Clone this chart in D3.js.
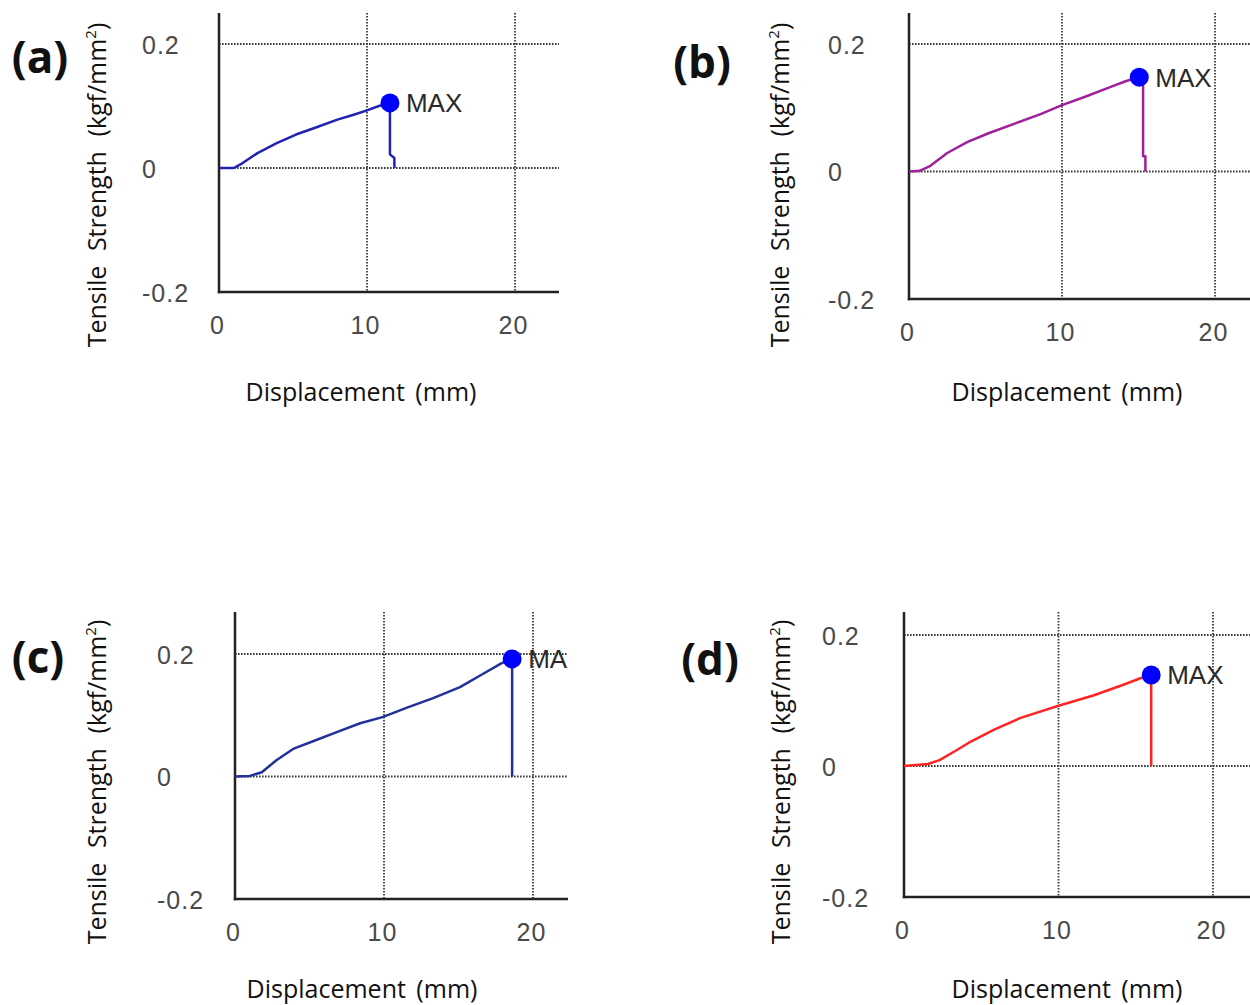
<html>
<head>
<script src="https://d3js.org/d3.v7.min.js"></script>
<style>
  body { margin: 0; background: #fff; }
  .tick text { font-family: "Liberation Sans", Arial, sans-serif; font-size: 25px; fill: #4a4a4a; letter-spacing: 1px; }
  .title { font-family: "Open Sans", "Noto Sans", sans-serif; font-size: 25px; fill: #111; }
  .plabel { font-family: "Open Sans", "Noto Sans", sans-serif; font-size: 44px; font-weight: bold; fill: #111; }
  .maxlabel { font-family: "Liberation Sans", Arial, sans-serif; font-size: 26px; fill: #2a2a2a; }
  .grid { stroke: #3a3a3a; stroke-width: 1.8; stroke-dasharray: 1.6,1.4; }
  .axisline { stroke: #222; stroke-width: 2.5; }
</style>
</head>
<body>
<div id="chart"></div>
<script>
// tick values shared by all four panels
const xTicks = [0, 10, 20];
const yTicks = [-0.2, 0, 0.2];
const yTickLabels = ['-0.2', '0', '0.2'];
const panelLabels = ['(a)', '(b)', '(c)', '(d)'];

// displacement (mm) / tensile strength (kgf/mm2)
const dispA = [0, 1.0, 1.6, 2.6, 3.9, 5.2, 6.5, 8.0, 9.1, 10.0, 10.8, 11.55, 11.55, 11.85, 11.85];
const tensA = [0, 0.0, 0.008, 0.024, 0.040, 0.054, 0.065, 0.078, 0.086, 0.093, 0.100, 0.105, 0.022, 0.016, 0];

const dispB = [0, 0.7, 1.4, 2.5, 3.8, 5.2, 7.0, 8.6, 10.0, 11.6, 13.1, 14.2, 15.05, 15.3, 15.3, 15.45, 15.45];
const tensB = [0, 0.001, 0.009, 0.029, 0.046, 0.060, 0.076, 0.090, 0.104, 0.118, 0.132, 0.142, 0.148, 0.146, 0.024, 0.024, 0];

const dispC = [0, 1.0, 1.8, 2.8, 3.9, 5.5, 7.0, 8.4, 9.9, 11.5, 13.3, 15.1, 16.6, 17.9, 18.6, 18.6];
const tensC = [0, 0.001, 0.007, 0.027, 0.045, 0.060, 0.074, 0.087, 0.097, 0.112, 0.128, 0.146, 0.167, 0.185, 0.192, 0];

const dispD = [0, 1.55, 2.3, 3.4, 4.3, 5.8, 7.5, 10.0, 12.3, 14.2, 15.3, 16.0, 16.0];
const tensD = [0, 0.003, 0.009, 0.024, 0.037, 0.055, 0.073, 0.092, 0.108, 0.124, 0.134, 0.139, 0];

const lineColors = ['#2222b0', '#a0209c', '#22309a', '#ff2424'];

// pixel layout of each panel
const layout = [
  { x0: 219, x20: 515, yLo: 292, yHi: 44,  top: 13,  right: 559,  tickX: 142, label: [40, 73],  yTitle: [98, 185],  xTitle: [361, 401], clip: null },
  { x0: 909, x20: 1215, yLo: 299, yHi: 44, top: 13,  right: 1260, tickX: 828, label: [702, 78], yTitle: [781, 185], xTitle: [1067, 401], clip: null },
  { x0: 235, x20: 533, yLo: 899, yHi: 654, top: 612, right: 570,  tickX: 157, label: [38, 673], yTitle: [98, 782],  xTitle: [362, 998], clip: 568 },
  { x0: 904, x20: 1213, yLo: 897, yHi: 635, top: 612, right: 1260, tickX: 822, label: [710, 675], yTitle: [782, 782], xTitle: [1067, 998], clip: null }
];

const series = [[dispA, tensA], [dispB, tensB], [dispC, tensC], [dispD, tensD]];

const svg = d3.select('#chart').append('svg')
    .attr('width', 1250)
    .attr('height', 1005);

svg.append('rect').attr('width', 1250).attr('height', 1005).attr('fill', '#fff');

layout.forEach((L, i) => {
    const xs = series[i][0], ys = series[i][1];
    const pts = xs.map((d, k) => [d, ys[k]]);

    const xScale = d3.scaleLinear().domain([0, 20]).range([L.x0, L.x20]);
    const yScale = d3.scaleLinear().domain([-0.2, 0.2]).range([L.yLo, L.yHi]);

    let g = svg.append('g');
    if (L.clip) {
        svg.append('clipPath').attr('id', 'clip' + i)
            .append('rect').attr('x', 0).attr('y', 0).attr('width', L.clip).attr('height', 1005);
        g.attr('clip-path', `url(#clip${i})`);
    }

    // grid
    g.selectAll('.vgrid').data(xTicks.filter(d => d > 0)).enter().append('line')
        .attr('class', 'grid')
        .attr('x1', d => xScale(d)).attr('x2', d => xScale(d))
        .attr('y1', L.top).attr('y2', L.yLo);
    g.selectAll('.hgrid').data(yTicks.filter(d => d > -0.2)).enter().append('line')
        .attr('class', 'grid')
        .attr('x1', L.x0).attr('x2', L.right)
        .attr('y1', d => yScale(d)).attr('y2', d => yScale(d));

    // axes (labels through d3 axis, lines drawn to the panel extent)
    let bottomAxis = d3.axisBottom(xScale).tickValues(xTicks).tickSize(0).tickFormat(d3.format('d'));
    const xa = g.append('g').attr('transform', `translate(0,${L.yLo})`).call(bottomAxis);
    xa.select('.domain').remove();
    xa.selectAll('text').attr('y', 42).attr('dy', 0).attr('x', -2);

    let leftAxis = d3.axisLeft(yScale).tickValues(yTicks).tickSize(0)
        .tickFormat((d, k) => yTickLabels[k]);
    const ya = g.append('g').attr('transform', `translate(${L.x0},0)`).call(leftAxis);
    ya.select('.domain').remove();
    ya.selectAll('text').attr('text-anchor', 'start').attr('x', L.tickX - L.x0).attr('dy', '0.36em');

    g.append('line').attr('class', 'axisline')
        .attr('x1', L.x0).attr('x2', L.x0).attr('y1', L.top).attr('y2', L.yLo + 1.2);
    g.append('line').attr('class', 'axisline')
        .attr('x1', L.x0 - 1.2).attr('x2', L.right).attr('y1', L.yLo).attr('y2', L.yLo);

    // curve
    const line = d3.line().x(d => xScale(d[0])).y(d => yScale(d[1]));
    g.append('path').datum(pts)
        .attr('d', line)
        .attr('fill', 'none')
        .attr('stroke', lineColors[i])
        .attr('stroke-width', 2.5)
        .attr('stroke-linejoin', 'round');

    // MAX marker
    const mi = d3.maxIndex(ys);
    const mx = xScale(xs[mi]), my = yScale(ys[mi]);
    g.append('circle').attr('cx', mx).attr('cy', my).attr('r', 9.5).attr('fill', '#0000ff');
    g.append('text').attr('class', 'maxlabel')
        .attr('x', mx + 16).attr('y', my + 9.5).text('MAX');

    // titles
    const yt = svg.append('text').attr('class', 'title')
        .attr('text-anchor', 'middle')
        .attr('word-spacing', 8)
        .attr('transform', `translate(${L.yTitle[0] + 8},${L.yTitle[1]}) rotate(-90)`);
    yt.append('tspan').text('Tensile Strength (kgf/mm');
    yt.append('tspan').attr('baseline-shift', 'super').attr('font-size', '15px').text('2');
    yt.append('tspan').text(')');

    svg.append('text').attr('class', 'title')
        .attr('text-anchor', 'middle')
        .attr('word-spacing', 4)
        .attr('x', L.xTitle[0]).attr('y', L.xTitle[1])
        .text('Displacement (mm)');

    svg.append('text').attr('class', 'plabel')
        .attr('text-anchor', 'middle')
        .attr('x', L.label[0]).attr('y', L.label[1])
        .text(panelLabels[i]);
});
</script>
</body>
</html>
